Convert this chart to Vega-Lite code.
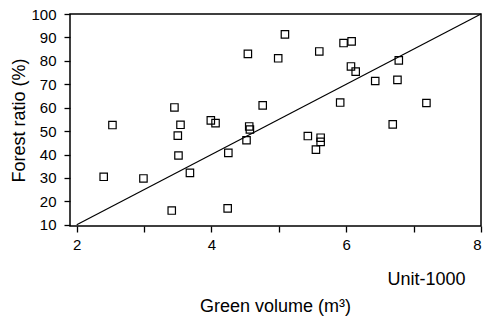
{
  "$schema": "https://vega.github.io/schema/vega-lite/v6.json",
  "width": 411,
  "height": 212,
  "autosize": {"type": "none"},
  "padding": {"left": 70, "top": 14, "right": 3, "bottom": 95},
  "background": "white",
  "config": {
    "font": "Liberation Sans",
    "view": {"stroke": "black", "strokeWidth": 1.5},
    "axis": {"grid": false, "domain": false, "tickColor": "black", "labelColor": "black", "titleColor": "black", "labelFontWeight": "normal", "titleFontWeight": "normal", "labelOverlap": false, "labelFlush": false, "labelBound": false}
  },
  "title": {"text": "Green volume (m³)", "orient": "bottom", "anchor": "middle", "fontSize": 18, "fontWeight": "normal", "color": "black", "offset": 10},
  "encoding": {
    "x": {"field": "v", "type": "quantitative",
      "scale": {"domain": [1.9, 8], "nice": false, "zero": false},
      "axis": {"values": [2, 3, 4, 5, 6, 7, 8], "labelExpr": "datum.value % 2 == 0 ? format(datum.value, 'd') : ''", "labelFlush": true, "labelFontSize": 15, "labelPadding": 5, "tickSize": 6, "tickWidth": 1.3, "title": "Unit-1000", "titleX": 395, "titleAlign": "right", "titleFontSize": 18, "titlePadding": 18}},
    "y": {"field": "r", "type": "quantitative",
      "scale": {"domain": [9.5, 100], "nice": false, "zero": false},
      "axis": {"values": [10, 20, 30, 40, 50, 60, 70, 80, 90, 100], "format": "d", "labelFontSize": 15, "tickSize": 6, "tickWidth": 1.3, "labelPadding": 8, "title": "Forest ratio (%)", "titleFontSize": 18, "titlePadding": 2}}
  },
  "layer": [
    {
      "data": {"values": [
        {"v": 2.40, "r": 30.5}, {"v": 2.53, "r": 52.6}, {"v": 2.99, "r": 29.8}, {"v": 3.41, "r": 16.1},
        {"v": 3.45, "r": 60.1}, {"v": 3.54, "r": 52.7}, {"v": 3.50, "r": 48.1}, {"v": 3.51, "r": 39.6},
        {"v": 3.68, "r": 32.2}, {"v": 3.99, "r": 54.6}, {"v": 4.06, "r": 53.4}, {"v": 4.25, "r": 40.7},
        {"v": 4.24, "r": 17.0}, {"v": 4.54, "r": 83.0}, {"v": 5.09, "r": 91.3}, {"v": 4.99, "r": 81.1},
        {"v": 5.60, "r": 84.0}, {"v": 5.96, "r": 87.6}, {"v": 6.08, "r": 88.3}, {"v": 6.07, "r": 77.6},
        {"v": 6.14, "r": 75.4}, {"v": 6.43, "r": 71.4}, {"v": 6.78, "r": 80.2}, {"v": 6.76, "r": 71.9},
        {"v": 4.76, "r": 61.0}, {"v": 5.91, "r": 62.2}, {"v": 7.19, "r": 62.0}, {"v": 6.69, "r": 52.9},
        {"v": 4.56, "r": 52.0}, {"v": 4.57, "r": 50.7}, {"v": 4.52, "r": 46.1}, {"v": 5.43, "r": 47.9},
        {"v": 5.62, "r": 47.2}, {"v": 5.62, "r": 45.4}, {"v": 5.55, "r": 42.1}
      ]},
      "mark": {"type": "point", "shape": "square", "size": 55, "filled": false, "stroke": "black", "strokeWidth": 1.2, "opacity": 1}
    },
    {
      "data": {"values": [{"v": 2, "r": 10}, {"v": 8, "r": 100}]},
      "mark": {"type": "line", "color": "black", "strokeWidth": 1.2}
    }
  ]
}
